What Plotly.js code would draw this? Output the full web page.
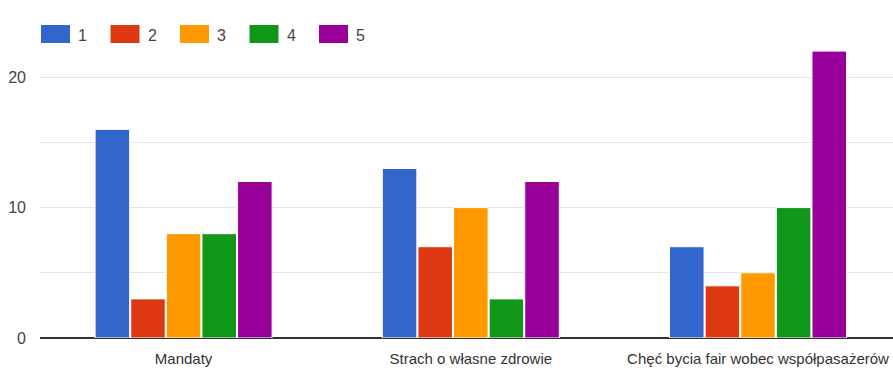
<!DOCTYPE html>
<html><head><meta charset="utf-8">
<script src="https://cdn.plot.ly/plotly-3.0.1.min.js"></script>
<style>body{margin:0;background:#fff}#chart{width:893px;height:372px}</style>
</head><body><div id="chart"></div>
<script>
const categories = ["Mandaty", "Strach o własne zdrowie", "Chęć bycia fair wobec współpasażerów"];
const seriesNames = ["1", "2", "3", "4", "5"];
const seriesColors = ["#3366cc", "#dc3912", "#ff9900", "#109618", "#990099"];
const values1 = [16, 13, 7];
const values2 = [3, 7, 4];
const values3 = [8, 10, 5];
const values4 = [8, 3, 10];
const values5 = [12, 12, 22];
const yTickVals = [0, 5, 10, 15, 20, 25];
const yTickText = ["0", "", "10", "", "20", ""];

const FONT = "Liberation Sans, Arial, sans-serif";
const allValues = [values1, values2, values3, values4, values5];
const traces = allValues.map((v, i) => ({
  type: "bar", x: categories, y: v, name: seriesNames[i],
  marker: {color: seriesColors[i], line: {color: "#ffffff", width: 1}},
  hoverinfo: "y", showlegend: false
}));

const shapes = [];
const annotations = [];
const legX0 = 41, legStep = 69.5, W = 893, H = 372;
seriesNames.forEach((n, i) => {
  const x0 = legX0 + i * legStep;
  shapes.push({type: "rect", xref: "paper", yref: "paper",
    x0: (x0 - 40) / 853, x1: (x0 + 29 - 40) / 853,
    y0: 1 + (12 - 43) / 326, y1: 1 + (12 - 25) / 326,
    fillcolor: seriesColors[i], line: {width: 0}});
  annotations.push({xref: "paper", yref: "paper", x: (x0 + 35 - 40) / 853, y: 1 + (12 - 35) / 326,
    xanchor: "left", yanchor: "middle", text: n, showarrow: false,
    font: {family: FONT, size: 16, color: "#444"}});
});

const layout = {
  width: W, height: H,
  margin: {l: 40, r: 0, t: 12, b: 34},
  paper_bgcolor: "#ffffff", plot_bgcolor: "#ffffff",
  barmode: "group", bargap: 0.38, bargroupgap: 0.03,
  showlegend: false,
  font: {family: FONT, size: 15, color: "#444"},
  xaxis: {type: "category", range: [-0.5, 2.47], showgrid: false, zeroline: false,
    showline: false, ticks: "outside", ticklen: 7, tickcolor: "rgba(0,0,0,0)",
    tickfont: {family: FONT, size: 15, color: "#333"}},
  yaxis: {range: [0, 25], tickvals: yTickVals, ticktext: yTickText,
    showgrid: true, gridcolor: "#e4e4e4", gridwidth: 1,
    zeroline: true, zerolinecolor: "#333333", zerolinewidth: 1.5,
    showline: false, ticks: "", tickfont: {family: FONT, size: 16, color: "#444"}, ticklabelstandoff: 13},
  shapes: shapes, annotations: annotations
};
Plotly.newPlot("chart", traces, layout, {displayModeBar: false, staticPlot: true});
</script></body></html>
